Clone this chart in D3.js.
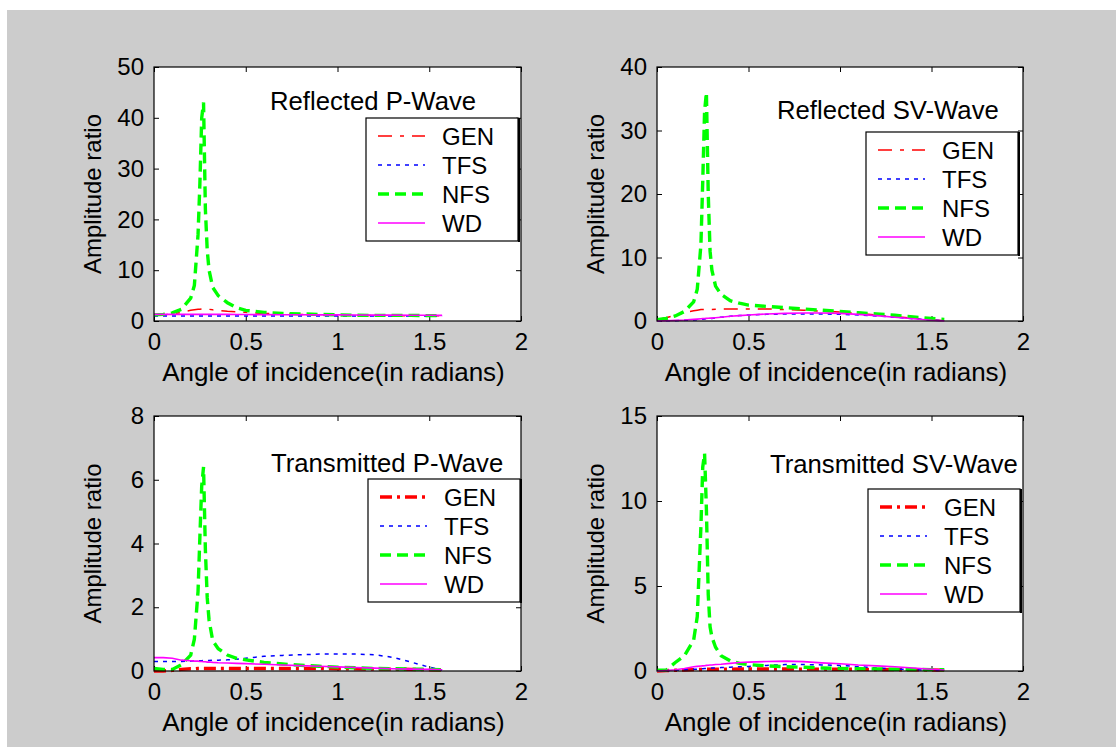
<!DOCTYPE html>
<html>
<head>
<meta charset="utf-8">
<script src="https://cdn.jsdelivr.net/npm/d3@7"></script>
<style>
  body { margin: 0; background: #ffffff; }
  svg text { font-family: "Liberation Sans", Arial, sans-serif; fill: #000; }
</style>
</head>
<body>
<svg id="chart" width="1116" height="747"></svg>
<script>
// ---------- data ----------
const angles = [0, 0.05, 0.1, 0.15, 0.2, 0.22, 0.24, 0.25, 0.26, 0.27, 0.28, 0.29, 0.3, 0.32, 0.35, 0.4, 0.45, 0.5, 0.6, 0.7, 0.8, 0.9, 1.0, 1.1, 1.2, 1.3, 1.4, 1.5, 1.57];

// Reflected P-wave
const rpGEN = [1.1, 1.2, 1.4, 1.7, 2.1, 2.2, 2.3, 2.3, 2.35, 2.4, 2.35, 2.3, 2.3, 2.2, 2.1, 1.9, 1.8, 1.7, 1.5, 1.4, 1.3, 1.2, 1.15, 1.1, 1.1, 1.05, 1.05, 1.05, 1.05];
const rpTFS = [1.0, 1.0, 1.0, 1.0, 1.0, 1.0, 1.0, 1.0, 1.0, 1.0, 1.0, 1.0, 1.0, 1.0, 1.0, 1.0, 1.0, 1.0, 1.0, 1.0, 1.0, 1.0, 1.0, 1.0, 1.0, 1.0, 1.0, 1.0, 1.0];
const rpNFS = [1.2, 1.3, 1.6, 2.3, 4.5, 7, 17, 27, 40, 43, 22, 14, 10, 6.6, 5, 3.6, 2.6, 2.1, 1.7, 1.5, 1.4, 1.3, 1.2, 1.15, 1.1, 1.1, 1.1, 1.05, 1.05];
const rpWD  = [1.3, 1.3, 1.3, 1.3, 1.3, 1.3, 1.3, 1.3, 1.3, 1.3, 1.3, 1.3, 1.3, 1.3, 1.3, 1.3, 1.28, 1.27, 1.25, 1.24, 1.22, 1.2, 1.2, 1.18, 1.16, 1.15, 1.13, 1.12, 1.1];

// Reflected SV-wave
const rsGEN = [0.2, 0.5, 0.9, 1.3, 1.6, 1.7, 1.8, 1.8, 1.8, 1.8, 1.8, 1.8, 1.8, 1.85, 1.9, 1.9, 1.9, 1.9, 1.9, 1.8, 1.7, 1.55, 1.4, 1.2, 0.95, 0.7, 0.45, 0.2, 0.05];
const rsTFS = [0, 0.02, 0.05, 0.1, 0.15, 0.2, 0.25, 0.28, 0.32, 0.35, 0.37, 0.39, 0.4, 0.5, 0.6, 0.75, 0.85, 0.95, 1.05, 1.1, 1.1, 1.1, 1.05, 0.95, 0.8, 0.6, 0.35, 0.15, 0.02];
const rsNFS = [0.2, 0.4, 0.8, 1.5, 3.0, 5, 12, 22, 33, 36, 20, 11, 8, 5.5, 4.2, 3.2, 2.8, 2.5, 2.3, 2.1, 1.9, 1.7, 1.5, 1.3, 1.1, 0.9, 0.65, 0.4, 0.25];
const rsWD  = [0, 0.05, 0.1, 0.15, 0.25, 0.3, 0.35, 0.38, 0.4, 0.42, 0.44, 0.45, 0.45, 0.52, 0.6, 0.75, 0.85, 0.95, 1.1, 1.2, 1.25, 1.25, 1.2, 1.05, 0.85, 0.6, 0.35, 0.12, 0.02];

// Transmitted P-wave
const tpGEN = [0, 0, 0.02, 0.05, 0.07, 0.07, 0.08, 0.08, 0.08, 0.08, 0.08, 0.08, 0.08, 0.08, 0.08, 0.08, 0.08, 0.08, 0.08, 0.08, 0.08, 0.08, 0.07, 0.07, 0.06, 0.06, 0.05, 0.04, 0.03];
const tpTFS = [0.3, 0.3, 0.3, 0.3, 0.31, 0.31, 0.32, 0.32, 0.32, 0.33, 0.33, 0.33, 0.33, 0.34, 0.34, 0.35, 0.37, 0.4, 0.46, 0.49, 0.51, 0.53, 0.53, 0.53, 0.51, 0.43, 0.28, 0.12, 0.03];
const tpNFS = [0.08, 0.05, 0.05, 0.2, 0.5, 1.0, 2.5, 4.2, 5.8, 6.4, 3.8, 2.3, 1.6, 0.95, 0.7, 0.5, 0.4, 0.35, 0.27, 0.22, 0.18, 0.15, 0.12, 0.1, 0.08, 0.07, 0.06, 0.05, 0.04];
const tpWD  = [0.42, 0.42, 0.4, 0.34, 0.32, 0.31, 0.31, 0.3, 0.3, 0.29, 0.29, 0.28, 0.28, 0.27, 0.26, 0.25, 0.24, 0.23, 0.21, 0.19, 0.17, 0.15, 0.13, 0.11, 0.09, 0.07, 0.06, 0.05, 0.04];

// Transmitted SV-wave
const tsGEN = [0, 0.02, 0.04, 0.06, 0.08, 0.08, 0.09, 0.09, 0.1, 0.1, 0.1, 0.1, 0.1, 0.1, 0.11, 0.11, 0.12, 0.12, 0.12, 0.12, 0.11, 0.11, 0.1, 0.1, 0.09, 0.08, 0.07, 0.06, 0.05];
const tsTFS = [0, 0.02, 0.04, 0.07, 0.1, 0.11, 0.12, 0.13, 0.14, 0.15, 0.16, 0.16, 0.17, 0.18, 0.2, 0.22, 0.25, 0.27, 0.33, 0.38, 0.38, 0.36, 0.33, 0.25, 0.18, 0.12, 0.08, 0.04, 0.02];
const tsNFS = [0.05, 0.05, 0.5, 0.9, 1.8, 3.2, 8.5, 12, 12.8, 9.5, 4.5, 2.6, 2.0, 1.4, 0.9, 0.6, 0.45, 0.38, 0.3, 0.25, 0.22, 0.18, 0.15, 0.13, 0.12, 0.1, 0.09, 0.08, 0.07];
const tsWD  = [0, 0.03, 0.07, 0.15, 0.25, 0.27, 0.29, 0.3, 0.31, 0.33, 0.34, 0.35, 0.35, 0.38, 0.4, 0.45, 0.5, 0.52, 0.56, 0.58, 0.55, 0.48, 0.43, 0.35, 0.3, 0.25, 0.18, 0.1, 0.05];

const seriesNames = ["GEN", "TFS", "NFS", "WD"];
const panelTitles = ["Reflected P-Wave", "Reflected SV-Wave", "Transmitted P-Wave", "Transmitted SV-Wave"];
const xTickValues = [0, 0.5, 1, 1.5, 2];
const xTickLabels = ["0", "0.5", "1", "1.5", "2"];
const yTicksRP = [0, 10, 20, 30, 40, 50];
const yTicksRS = [0, 10, 20, 30, 40];
const yTicksTP = [0, 2, 4, 6, 8];
const yTicksTS = [0, 5, 10, 15];
const xLabel = "Angle of incidence(in radians)";
const yLabel = "Amplitude ratio";

// ---------- layout / style ----------
const panels = [
  { box: [154, 67, 521, 321], yTicks: yTicksRP, series: [rpGEN, rpTFS, rpNFS, rpWD], thickGen: false, title: [270, 110], legend: [366, 118] },
  { box: [657, 67, 1023, 321], yTicks: yTicksRS, series: [rsGEN, rsTFS, rsNFS, rsWD], thickGen: false, title: [777, 119], legend: [866, 132] },
  { box: [154, 416, 521, 671], yTicks: yTicksTP, series: [tpGEN, tpTFS, tpNFS, tpWD], thickGen: true, title: [271, 472], legend: [368, 479] },
  { box: [657, 416, 1023, 671], yTicks: yTicksTS, series: [tsGEN, tsTFS, tsNFS, tsWD], thickGen: true, title: [770, 473], legend: [868, 489] }
];
const colors = ["#ff0000", "#0000ff", "#00ff00", "#ff00ff"];
function styleFor(i, thickGen) {
  if (i === 0) return thickGen ? { w: 3.4, dash: "12,5,3,5" } : { w: 1.5, dash: "14,8,4,8" };
  if (i === 1) return { w: 1.5, dash: "4,5" };
  if (i === 2) return { w: 3.4, dash: "11,6" };
  return { w: 1.6, dash: null };
}

const svg = d3.select("#chart");
svg.append("rect").attr("x", 7).attr("y", 10).attr("width", 1109).attr("height", 737).attr("fill", "#cccccc");

panels.forEach((p, pi) => {
  const [x0, y0, x1, y1] = p.box;
  const x = d3.scaleLinear().domain([0, 2]).range([x0, x1]);
  const y = d3.scaleLinear().domain([0, d3.max(p.yTicks)]).range([y1, y0]);
  const g = svg.append("g");

  g.append("rect").attr("x", x0).attr("y", y0).attr("width", x1 - x0).attr("height", y1 - y0)
    .attr("fill", "#fff");

  // axes
  const fs = "24px";
  const ax = g.append("g").attr("transform", `translate(0,${y1})`)
    .call(d3.axisBottom(x).tickValues(xTickValues).tickFormat((d, i) => xTickLabels[i]).tickSize(-5).tickPadding(12));
  const axT = g.append("g").attr("transform", `translate(0,${y0})`)
    .call(d3.axisTop(x).tickValues(xTickValues).tickFormat("").tickSize(-5));
  const ay = g.append("g").attr("transform", `translate(${x0},0)`)
    .call(d3.axisLeft(y).tickValues(p.yTicks).tickFormat(d3.format("d")).tickSize(-5).tickPadding(10));
  const ayR = g.append("g").attr("transform", `translate(${x1},0)`)
    .call(d3.axisRight(y).tickValues(p.yTicks).tickFormat("").tickSize(-5));
  [ax, axT, ay, ayR].forEach(a => {
    a.select(".domain").remove();
    a.selectAll("line").attr("stroke", "#000");
    a.selectAll("text").style("font-size", fs).attr("font-family", "Liberation Sans, Arial, sans-serif").attr("fill", "#000");
  });

  // lines
  const line = d3.line().x((d, i) => x(angles[i])).y(d => y(d));
  p.series.forEach((s, si) => {
    const st = styleFor(si, p.thickGen);
    g.append("path").attr("d", line(s)).attr("fill", "none")
      .attr("stroke", colors[si]).attr("stroke-width", st.w)
      .attr("stroke-dasharray", st.dash);
  });

  // box
  g.append("rect").attr("x", x0).attr("y", y0).attr("width", x1 - x0).attr("height", y1 - y0)
    .attr("fill", "none").attr("stroke", "#000").attr("stroke-width", 1.2);

  // in-plot title
  g.append("text").attr("x", p.title[0]).attr("y", p.title[1]).style("font-size", "25.7px").text(panelTitles[pi]);

  // legend
  const [lx, ly] = p.legend;
  const lw = 152, lh = 123;
  const lg = g.append("g");
  lg.append("rect").attr("x", lx).attr("y", ly).attr("width", lw).attr("height", lh)
    .attr("fill", "#fff").attr("stroke", "#000").attr("stroke-width", 1.2);
  lg.append("line").attr("x1", lx + lw + 1).attr("x2", lx + lw + 1).attr("y1", ly).attr("y2", ly + lh + 1)
    .attr("stroke", "#000").attr("stroke-width", 2);
  seriesNames.forEach((n, si) => {
    const st = styleFor(si, p.thickGen);
    const ry = ly + 18 + si * 29;
    lg.append("line").attr("x1", lx + 12).attr("x2", lx + 59).attr("y1", ry).attr("y2", ry)
      .attr("stroke", colors[si]).attr("stroke-width", st.w).attr("stroke-dasharray", st.dash);
    lg.append("text").attr("x", lx + 76).attr("y", ry + 9).style("font-size", "24px").text(n);
  });

  // axis labels
  g.append("text").attr("x", (x0 + x1) / 2 - 4).attr("y", y1 + 60).attr("text-anchor", "middle")
    .style("font-size", "26px").text(xLabel);
  g.append("text").attr("transform", `translate(${x0 - 53},${(y0 + y1) / 2}) rotate(-90)`)
    .attr("text-anchor", "middle").style("font-size", "24px").text(yLabel);
});
</script>
</body>
</html>
